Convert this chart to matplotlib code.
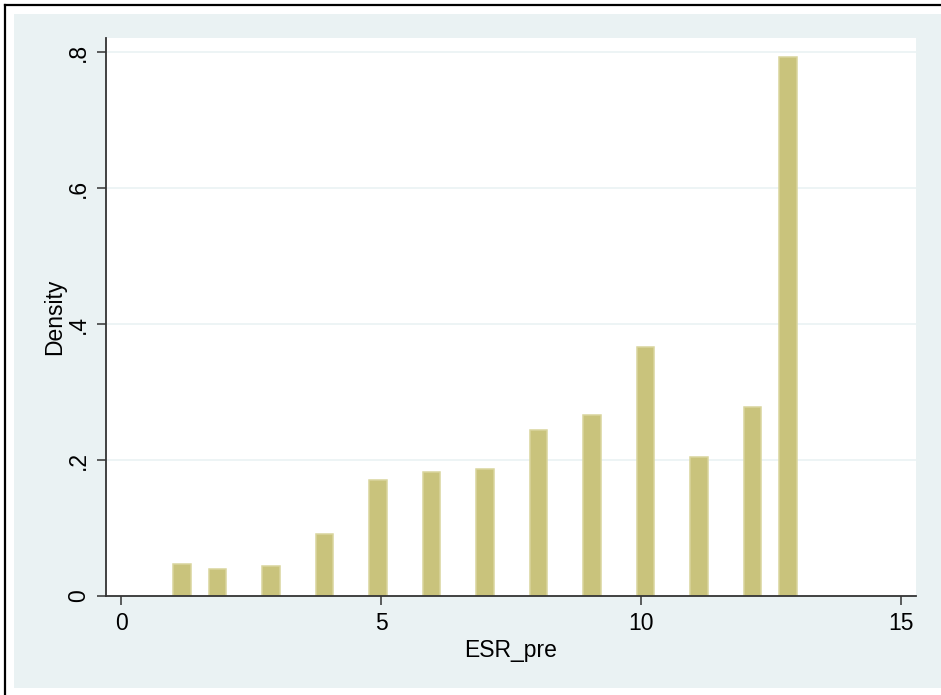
import numpy as np
import matplotlib
matplotlib.use('Agg')
import matplotlib.pyplot as plt
from matplotlib.patches import Rectangle
from matplotlib.lines import Line2D

plt.rcParams['font.family'] = ['Liberation Sans', 'DejaVu Sans']

# ---- data ----
esr_values = [1, 2, 3, 4, 5, 6, 7, 8, 9, 10, 11, 12, 13]
density = [0.0477, 0.0403, 0.0448, 0.0912, 0.170, 0.182, 0.187,
           0.244, 0.266, 0.366, 0.204, 0.278, 0.793]
n_bins = 35
x_ticks = [0, 5, 10, 15]
y_ticks = [0, 0.2, 0.4, 0.6, 0.8]
y_tick_labels = ['0', '.2', '.4', '.6', '.8']

BG = '#eaf2f3'
BAR_FILL = '#c9c37c'
BAR_EDGE = '#d9d59d'
FS = 16.5

W, H = 941, 695
fig = plt.figure(figsize=(W / 100, H / 100), dpi=100)
fig.patch.set_facecolor('white')

# outer frame (Stata graph region)
fig.add_artist(Rectangle((14 / W, (H - 688) / H), (W - 14) / W, (688 - 14) / H,
                         transform=fig.transFigure, facecolor=BG, edgecolor='none', zorder=0))
fig.add_artist(Line2D([5 / W, 1], [1 - 5 / H, 1 - 5 / H], transform=fig.transFigure,
                      color='black', lw=1.6))
fig.add_artist(Line2D([5 / W, 5 / W], [0, 1 - 5 / H], transform=fig.transFigure,
                      color='black', lw=1.6))

ax = fig.add_axes([106 / W, (H - 596) / H, 810 / W, 558 / H])
ax.set_facecolor('white')

# histogram bins: 35 equal bins from min to max
lo, hi = min(esr_values), max(esr_values)
bw = (hi - lo) / n_bins
idx = np.minimum(np.floor((np.array(esr_values) - lo) / bw + 1e-9), n_bins - 1)
left = lo + idx * bw

ax.bar(left, density, width=bw, align='edge', color=BAR_FILL,
       edgecolor=BAR_EDGE, linewidth=1.1, zorder=3)

ax.set_xlim(-0.2885, 15.288)
ax.set_ylim(0, 0.8206)

for yv in y_ticks[1:]:
    ax.axhline(yv, color=BG, lw=1.2, zorder=1)

for s in ['top', 'right']:
    ax.spines[s].set_visible(False)
for s in ['left', 'bottom']:
    ax.spines[s].set_color('#333333')
    ax.spines[s].set_linewidth(1.3)
    ax.spines[s].set_zorder(4)

ax.set_xticks(x_ticks)
ax.set_yticks(y_ticks)
ax.set_yticklabels(y_tick_labels, rotation=90, va='center')
ax.tick_params(axis='both', direction='out', length=6.5, width=1.1,
               color='#333333', labelsize=FS, pad=5)

ax.set_xlabel('ESR_pre', fontsize=FS, labelpad=3)
ax.set_ylabel('Density', fontsize=FS, labelpad=0.5)

fig.savefig('out.png', dpi=100)
